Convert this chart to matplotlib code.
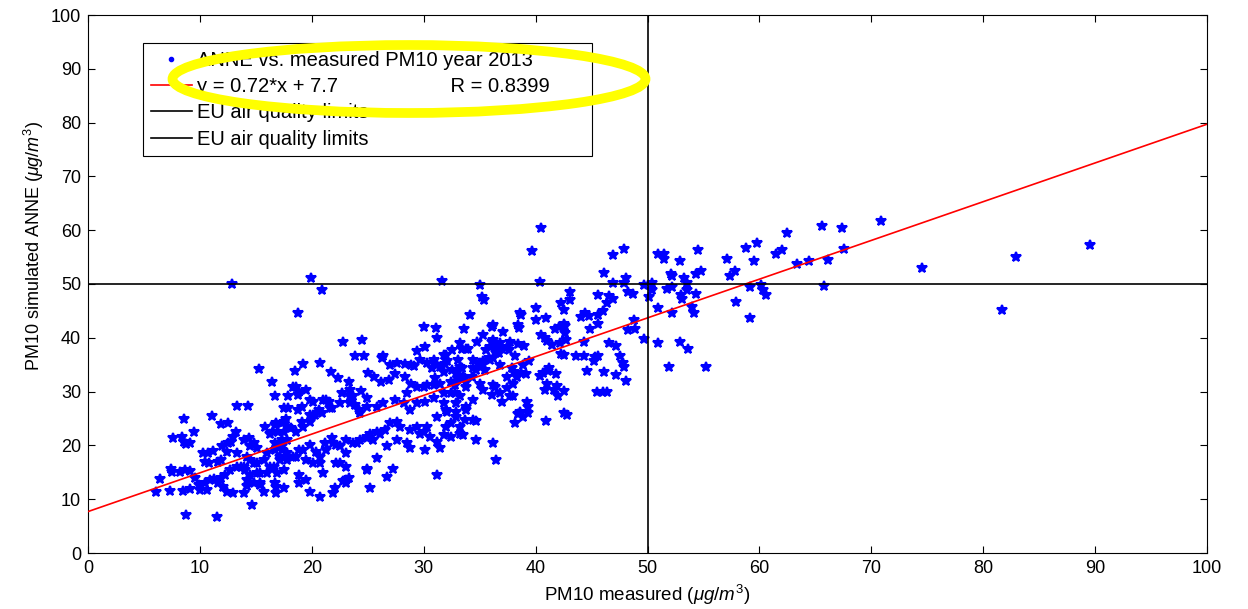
import numpy as np
import matplotlib.pyplot as plt
from matplotlib.lines import Line2D
from matplotlib.patches import Ellipse

plt.rcParams['font.family'] = ['Liberation Sans', 'DejaVu Sans']
plt.rcParams['mathtext.fontset'] = 'custom'
plt.rcParams['mathtext.rm'] = 'Liberation Sans'
plt.rcParams['mathtext.it'] = 'Liberation Sans:italic'

# (measured, simulated) pairs, grouped by region
low_cloud = [
    (6.1, 11.4), (6.4, 13.7), (7.3, 11.6), (7.4, 15.7), (7.5, 15.1), (7.6, 21.4), (8.4, 21.5),
    (8.2, 15.1), (8.5, 11.6), (8.6, 24.9), (8.7, 15.4), (8.8, 20.2), (8.6, 20.7), (8.8, 7.1),
    (9.1, 11.9), (9.1, 15.3), (9.1, 20.4), (9.5, 22.4), (9.6, 13.9), (9.9, 12.6), (10.0, 11.7),
    (10.3, 18.6), (10.5, 13.1), (10.5, 17.0), (10.6, 11.7), (10.7, 18.6), (10.8, 16.7), (10.9, 13.6),
    (11.1, 25.5), (11.2, 19.0), (11.3, 13.7), (11.5, 6.6), (11.6, 13.1), (11.6, 17.0), (11.9, 13.9),
    (11.9, 17.3), (11.9, 24.0), (12.0, 19.8), (12.1, 12.2), (12.2, 14.5), (12.4, 11.4), (12.4, 18.8),
    (12.5, 20.4), (12.5, 24.1), (12.7, 15.4), (12.8, 20.7), (12.9, 50.0), (13.0, 11.1), (13.0, 21.6),
    (13.2, 22.4), (13.3, 16.0), (13.3, 18.5), (13.3, 27.4), (13.7, 16.0), (13.9, 11.2), (13.9, 16.0),
    (13.9, 21.0), (14.0, 15.4), (14.2, 12.5), (14.2, 13.6), (14.2, 17.9), (14.3, 27.4), (14.4, 21.3),
    (14.5, 14.5), (14.5, 17.3), (14.5, 19.8), (14.7, 8.9), (14.8, 13.0), (14.8, 16.7), (14.8, 20.5),
    (15.1, 14.8), (15.1, 16.7), (15.1, 19.6), (15.3, 34.2), (15.4, 12.6), (15.4, 13.0), (15.4, 14.8),
    (15.7, 11.4), (15.7, 17.3), (15.8, 23.5), (16.0, 14.8), (16.0, 18.5), (16.3, 16.0), (16.3, 22.1),
    (16.4, 31.8), (16.5, 22.4), (16.6, 16.0), (16.7, 13.0), (16.7, 19.1), (16.7, 20.4), (16.7, 23.8),
    (16.7, 29.2), (16.8, 11.1), (16.8, 12.3), (16.8, 24.1), (16.9, 14.8), (17.0, 22.5),
    (17.2, 17.3), (17.2, 17.9), (17.3, 19.1), (17.3, 19.8), (17.3, 21.0), (17.3, 24.1), (17.5, 12.0),
    (17.5, 15.4), (17.5, 22.5), (17.5, 24.4), (17.5, 26.9), (17.7, 25.0), (17.8, 17.3), (17.8, 18.5),
    (17.8, 21.0), (17.9, 23.5), (17.9, 26.9), (17.9, 29.1), (18.1, 23.2), (18.3, 17.9), (18.3, 30.9),
    (18.5, 33.9), (18.6, 17.9), (18.6, 22.5), (18.6, 30.8), (18.8, 26.6), (18.8, 29.4), (18.8, 44.6),
    (18.9, 13.0), (18.9, 14.5), (18.9, 19.1), (18.9, 30.0), (19.1, 24.4), (19.1, 27.2), (19.2, 19.1),
    (19.2, 23.5), (19.2, 35.1), (19.5, 13.6), (19.5, 17.3), (19.5, 30.3), (19.8, 11.4), (19.8, 20.1),
    (19.8, 24.4), (19.8, 25.7), (19.8, 28.4), (19.9, 51.2), (20.1, 16.7), (20.1, 25.7), (20.1, 28.1),
    (20.3, 25.7), (20.4, 18.8), (20.6, 26.6), (20.7, 10.5), (20.7, 16.7), (20.7, 17.9), (20.7, 35.3),
    (20.9, 26.0), (20.9, 48.9), (21.0, 14.8), (21.0, 28.4), (21.2, 20.4), (21.3, 19.1), (21.3, 28.4),
    (21.5, 28.1), (21.6, 26.9), (21.7, 33.7), (21.8, 21.3), (21.8, 26.9), (21.9, 11.1), (21.9, 20.4),
    (22.1, 12.0), (22.2, 16.7), (22.2, 20.1), (22.3, 32.5), (22.5, 16.7), (22.5, 19.8), (22.5, 27.8),
    (22.7, 29.7), (22.8, 13.3), (22.8, 39.3), (23.1, 13.0), (23.1, 13.6), (23.1, 16.0), (23.1, 18.5),
    (23.1, 21.0), (23.3, 13.9), (23.3, 31.7), (23.4, 27.8), (23.4, 29.1), (23.4, 30.3), (23.7, 20.4),
    (23.7, 29.1), (23.9, 27.5), (23.9, 36.7), (24.0, 20.4), (24.2, 26.6), (24.3, 21.0),
    (24.3, 26.0), (24.4, 30.2), (24.5, 39.5), (24.7, 36.7), (24.9, 15.4), (24.9, 15.7), (24.9, 21.3),
]

mid_cloud = [
    (24.9, 21.6), (24.9, 27.2), (24.9, 28.8), (25.0, 33.5), (25.2, 12.0), (25.2, 22.2), (25.5, 21.0),
    (25.6, 32.8), (25.8, 17.6), (25.8, 22.5), (25.8, 27.2), (26.1, 22.2), (26.2, 31.8), (26.3, 36.2),
    (26.4, 27.8), (26.4, 36.7), (26.5, 22.9), (26.7, 14.2), (26.7, 19.8), (26.9, 32.2), (27.0, 24.1),
    (27.0, 34.9), (27.3, 15.7), (27.4, 28.4), (27.4, 33.3), (27.6, 21.0), (27.6, 24.4), (27.6, 35.3),
    (27.9, 23.5), (28.2, 27.8), (28.3, 32.8), (28.3, 35.1), (28.5, 20.4), (28.5, 29.7), (28.8, 19.5),
    (28.8, 22.9), (28.8, 26.6), (28.9, 31.5), (28.9, 34.9), (29.1, 34.8), (29.4, 23.5),
    (29.4, 27.8), (29.4, 30.9), (29.4, 37.5), (29.7, 22.2), (29.7, 35.9), (30.0, 22.5), (30.0, 30.9),
    (30.0, 42.1), (30.1, 19.1), (30.1, 28.1), (30.1, 38.3), (30.3, 23.5), (30.3, 31.2), (30.3, 35.3),
    (30.6, 21.6), (30.7, 34.3), (30.9, 28.8), (30.9, 31.2), (30.9, 35.9), (31.0, 32.5), (31.1, 41.8),
    (31.2, 14.5), (31.2, 20.7), (31.2, 25.3), (31.2, 34.9), (31.2, 40.0), (31.5, 19.5), (31.5, 31.5),
    (31.5, 34.6), (31.6, 50.6), (31.8, 21.9), (31.8, 27.8), (31.8, 29.7), (31.8, 33.7), (31.8, 36.8),
    (31.9, 35.1), (32.0, 23.5), (32.0, 26.6), (32.0, 36.8), (32.1, 26.3), (32.1, 35.6), (32.4, 21.6),
    (32.4, 24.1), (32.4, 29.7), (32.4, 31.8), (32.5, 34.0), (32.5, 37.7), (32.8, 29.7), (32.8, 31.2),
    (32.9, 25.3), (32.9, 26.3), (32.9, 27.8), (32.9, 33.4), (33.1, 32.3), (33.1, 34.0), (33.1, 35.9),
    (33.2, 22.2), (33.2, 23.5), (33.2, 29.1), (33.2, 34.6), (33.2, 39.0), (33.4, 34.3), (33.4, 37.9),
    (33.5, 21.9), (33.5, 32.8), (33.6, 41.6), (33.7, 24.7), (33.7, 32.5), (33.8, 26.6), (33.8, 27.2),
    (33.8, 30.9), (33.8, 31.8), (33.8, 38.0), (34.0, 37.9), (34.1, 44.2), (34.3, 32.8), (34.4, 24.7),
    (34.4, 28.4), (34.4, 34.3), (34.4, 35.9), (34.7, 21.0), (34.7, 24.6), (34.7, 34.0), (34.8, 39.3),
    (35.0, 31.5), (35.0, 34.6), (35.0, 35.3), (35.0, 49.8), (35.2, 34.9), (35.2, 47.5), (35.3, 30.3),
    (35.3, 35.6), (35.3, 40.5), (35.4, 47.0), (35.5, 34.0), (35.6, 37.7), (35.8, 36.2), (35.9, 35.9),
    (35.9, 38.3), (36.1, 29.4), (36.1, 39.3), (36.1, 42.1), (36.2, 20.4), (36.2, 31.2), (36.2, 36.2),
    (36.2, 39.6), (36.2, 42.4), (36.4, 30.9), (36.5, 17.3), (36.5, 37.1), (36.5, 38.0), (36.7, 37.1),
    (36.8, 29.7), (36.8, 34.9), (36.8, 39.0), (37.0, 28.1), (37.0, 38.0), (37.1, 41.1), (37.4, 30.6),
    (37.4, 32.8), (37.4, 38.3), (37.6, 37.7), (37.7, 29.1), (37.7, 39.3), (37.9, 34.3), (38.0, 29.1),
    (38.0, 31.5), (38.1, 33.7), (38.2, 24.2), (38.2, 36.6), (38.3, 32.8), (38.4, 25.9), (38.4, 38.8),
    (38.4, 42.4), (38.5, 41.9), (38.6, 26.3), (38.6, 44.6), (38.7, 33.4), (38.7, 44.2), (38.9, 25.2),
    (38.9, 34.9), (39.0, 38.5), (39.1, 33.3), (39.2, 28.1), (39.3, 26.0), (39.3, 27.2), (39.4, 35.6),
]

high_cloud = [
    (39.7, 56.1), (40.0, 43.4), (40.0, 45.5), (40.4, 32.9), (40.4, 50.3), (40.5, 40.5), (40.5, 60.5),
    (40.7, 33.5), (40.8, 30.3), (40.8, 39.9), (40.9, 24.6), (40.9, 43.6), (41.0, 31.5), (41.0, 39.4),
    (41.1, 33.8), (41.2, 34.4), (41.5, 38.7), (41.6, 30.3), (41.7, 41.6), (41.8, 33.3), (41.9, 31.0),
    (42.0, 29.1), (42.1, 42.1), (42.2, 39.0), (42.3, 36.9), (42.3, 46.5), (42.5, 26.0), (42.8, 25.7),
    (42.5, 30.2), (42.5, 36.8), (42.5, 42.5), (42.5, 45.2), (42.6, 40.8), (42.6, 42.2), (42.7, 39.6),
    (43.1, 47.0), (43.1, 48.6), (43.6, 36.7), (44.1, 43.9), (44.3, 36.7), (44.3, 39.3), (44.4, 44.6),
    (44.6, 33.8), (44.8, 44.0), (44.9, 41.6), (45.2, 35.7), (45.3, 36.5), (45.5, 29.9), (45.6, 36.6),
    (45.6, 42.6), (45.6, 44.2), (45.6, 48.0), (46.0, 29.9), (46.0, 45.0), (46.1, 33.7), (46.1, 52.0),
    (46.4, 29.9), (46.4, 46.5), (46.6, 39.1), (46.6, 47.7), (46.9, 47.3), (46.9, 50.1), (46.9, 55.4),
    (47.2, 33.0), (47.2, 38.5), (47.5, 36.7), (47.8, 35.3), (47.9, 34.6), (47.9, 50.1), (47.9, 56.5),
    (48.1, 32.0), (48.1, 51.1), (48.3, 41.4), (48.3, 48.6), (48.7, 48.1), (48.8, 43.3), (48.9, 41.6),
]

right_tail = [
    (49.7, 39.7), (49.7, 49.8), (50.1, 47.5), (50.4, 48.8), (50.4, 50.2), (50.9, 39.0), (50.9, 45.6),
    (50.9, 55.5), (51.5, 54.6), (51.5, 55.5), (51.7, 49.0), (51.9, 34.6), (52.1, 51.9), (52.2, 44.7),
    (52.2, 49.4), (52.2, 51.4), (52.9, 39.3), (52.9, 54.2), (53.0, 48.0), (53.1, 47.2), (53.3, 51.2),
    (53.5, 48.8), (53.5, 50.2), (53.6, 38.0), (54.0, 45.7), (54.2, 44.7), (54.3, 48.1), (54.3, 51.8),
    (54.5, 56.3), (54.8, 52.5), (55.2, 34.6), (57.1, 54.6), (57.4, 51.5), (57.8, 52.5), (57.9, 46.7),
    (58.8, 56.6), (59.2, 43.7), (59.2, 49.4), (59.5, 54.2), (59.8, 57.6), (60.1, 49.8), (60.3, 48.9),
    (60.6, 47.9), (61.5, 55.6), (62.0, 56.3), (62.5, 59.5), (63.4, 53.8), (64.4, 54.3), (65.6, 60.7),
    (65.8, 49.6), (66.1, 54.4), (67.4, 60.5), (67.6, 56.5), (70.9, 61.8), (74.5, 53.0), (81.7, 45.1),
    (82.9, 55.1), (89.5, 57.2),
]

fit_x = [0, 100]
fit_y = [7.7, 79.7]
eu_limit = 50
ticks = list(range(0, 101, 10))
legend_labels = [
    'ANNE vs. measured PM10 year 2013',
    'y = 0.72*x + 7.7' + ' ' * 20 + 'R = 0.8399',
    'EU air quality limits',
    'EU air quality limits',
]

pts = low_cloud + mid_cloud + high_cloud + right_tail
measured = np.array([p[0] for p in pts])
simulated = np.array([p[1] for p in pts])

W, H = 1248, 609
fig = plt.figure(figsize=(W / 100, H / 100), dpi=100)
ax = fig.add_axes([88 / W, 1 - 553 / H, (1207 - 88) / W, (553 - 15) / H])

ax.plot(measured, simulated, '*', color='blue', ms=7, mew=1.5, zorder=2)
ax.plot(fit_x, fit_y, color='red', lw=1.2, zorder=3)
ax.axhline(eu_limit, color='black', lw=1.2, zorder=3)
ax.axvline(eu_limit, color='black', lw=1.2, zorder=3)

ax.set_xlim(0, 100)
ax.set_ylim(0, 100)
ax.set_xticks(ticks)
ax.set_yticks(ticks)
ax.tick_params(direction='in', top=True, right=True, length=5, width=0.8, labelsize=13, pad=5)
for s in ax.spines.values():
    s.set_linewidth(0.8)

ax.set_xlabel(r'PM10 measured ($\mu g/m^3$)', fontsize=13.5, labelpad=4)
ax.set_ylabel(r'PM10 simulated ANNE ($\mu g/m^3$)', fontsize=13)
ax.yaxis.set_label_coords((46 - 88) / 1119, (553 - 246) / 538)

handles = [
    Line2D([], [], ls='none', marker='.', color='blue', ms=6),
    Line2D([], [], color='red', lw=1.2),
    Line2D([], [], color='black', lw=1.2),
    Line2D([], [], color='black', lw=1.2),
]
leg = ax.legend(handles, legend_labels, loc='upper left',
                bbox_to_anchor=(143 / W, 1 - 152 / H, (592 - 143) / W, (152 - 43) / H),
                bbox_transform=fig.transFigure, mode='expand', borderaxespad=0,
                fontsize=14.5, handlelength=2.04, handletextpad=0.25, borderpad=0.39,
                labelspacing=0.36, fancybox=False, framealpha=1, edgecolor='black')
leg.get_frame().set_linewidth(0.8)

ring = Ellipse((409 / W, 1 - 79 / H), 473 / W, 68 / H, transform=fig.transFigure,
               fill=False, ec='#ffff00', lw=7, zorder=10)
fig.add_artist(ring)

fig.savefig('out.png', dpi=100)
